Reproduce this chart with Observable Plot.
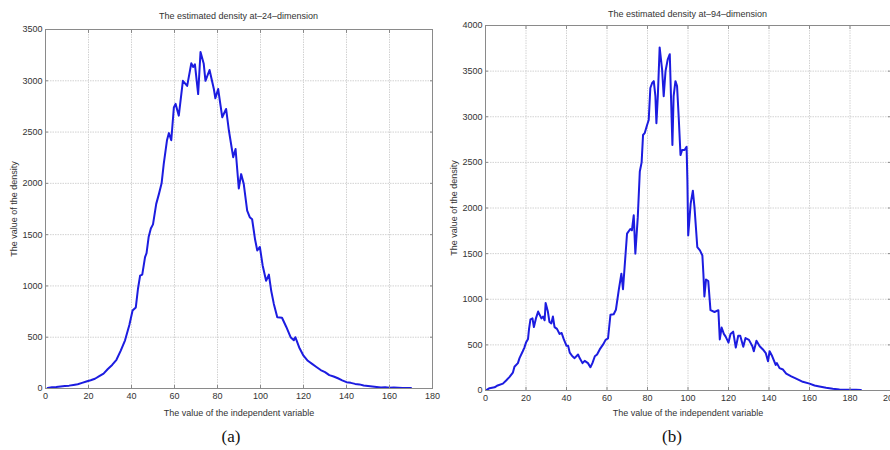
<!DOCTYPE html>
<html><head><meta charset="utf-8">
<script src="https://cdn.jsdelivr.net/npm/d3@7"></script>
<script src="https://cdn.jsdelivr.net/npm/@observablehq/plot@0.6"></script>
<style>
html,body{margin:0;padding:0;background:#fff;overflow:hidden;}
#wrap{position:relative;width:890px;height:450px;overflow:hidden;background:#fff;}
.panel{position:absolute;top:0;}
.title{position:absolute;font-family:"Liberation Sans",Arial,sans-serif;font-size:9px;color:#333;transform:translateX(-50%);white-space:nowrap;line-height:1;}
.cap{position:absolute;font-family:"Liberation Serif","Times New Roman",serif;font-size:17px;color:#111;transform:translateX(-50%);line-height:1;}
</style></head><body><div id="wrap"></div>
<script>
// ---- panel (a): 24-dimension ----
const titleA = "The estimated density at\u201324\u2013dimension";
const xa = [1,3,5,7,9,11,13,15,17,19,21,23,25,27,29,31,33,35,37,39,40.5,42,43,44,45,46.3,47,48,49,50,51.5,52.8,54,55,56.5,57.4,58.5,59.7,60.5,62,63.9,65.9,67.8,68.7,69.5,71,72.1,73.6,74.4,76.3,78.3,79,80.3,82.2,84,85.3,86.8,87.3,88.4,89.9,91,92.2,93.8,95,96.1,97.5,98.5,99.7,101,102.6,103.9,105,106.2,107.8,110,112,114,115.5,116.2,118,120,122,124,126,128,130,132,134,136,138,140,142,144,146,148,150,152,154,156,158,160,162,164,166,168,170];
const ya = [5,12,15,20,25,28,35,42,55,68,80,95,120,145,190,230,280,370,470,620,760,790,970,1100,1110,1280,1320,1480,1560,1600,1800,1900,2000,2190,2420,2490,2420,2740,2775,2660,3000,2950,3170,3135,3160,2870,3280,3165,3000,3105,2920,2830,2920,2645,2725,2515,2320,2255,2335,1950,2090,1995,1735,1670,1650,1450,1345,1380,1200,1050,1110,950,825,695,690,600,500,470,500,400,320,270,240,210,180,160,130,117,100,80,62,55,45,40,30,25,20,15,10,12,8,10,8,6,5,5];
const xTicksA = [0,20,40,60,80,100,120,140,160,180];
const yTicksA = [0,500,1000,1500,2000,2500,3000,3500];

// ---- panel (b): 94-dimension ----
const titleB = "The estimated density at\u201394\u2013dimension";
const xb = [0.4,2,4.5,6,8.6,10.2,11.9,13.5,14.3,16,16.8,18.4,19.2,20,21,21.5,22.2,23.2,23.9,24.9,26,27.6,28.4,29.2,29.7,30.8,31.6,32.5,33.3,34.1,35.3,36.6,37.6,38.6,40,40.8,41.6,42.9,44,45.7,46.5,47.9,49,50.6,51.8,52.8,54,55.1,56.4,58.1,59.3,60.5,61.7,63.3,64.4,65.8,67.1,67.9,69.9,71.5,72.3,73.2,74,75.2,76.2,77.1,77.8,78.6,79.8,80.6,81.4,82.3,83.1,83.9,84.4,85.1,86,87.2,88,88.9,90,91,91.6,92.3,92.9,93.8,94.6,95.4,96.3,97.1,98.3,99.3,99.7,100.1,101.3,102.4,103.2,104.6,105.9,107.1,107.6,108.1,108.9,110,111.1,113.1,115,115.7,116.6,117.7,118.6,120,121,122.3,123.6,124.8,125.8,127.3,128.4,130.1,131.8,132.5,133.8,135.4,137,138.4,139.5,140.3,141.6,143.3,143.9,145.2,146.9,148.5,151,153.4,156.7,160,162.5,164.9,168.2,171.5,174.8,179.7,183,185.4];
const yb = [5,25,35,55,75,110,150,195,260,300,355,430,470,525,565,675,780,790,695,790,865,790,810,770,960,865,750,735,810,695,675,620,630,565,490,490,415,375,355,395,355,300,325,300,255,300,375,395,450,505,555,570,830,835,885,1100,1280,1110,1720,1770,1755,1920,1500,1900,2400,2500,2800,2820,2910,2965,3315,3370,3390,3225,2930,3225,3760,3520,3225,3500,3630,3685,3225,2690,3225,3390,3335,3000,2580,2635,2635,2670,2300,1700,2045,2190,2010,1570,1535,1480,1280,1030,1217,1200,880,860,880,560,690,620,590,525,620,645,470,600,600,480,575,555,485,430,545,485,450,410,320,430,375,280,300,245,230,185,155,130,95,75,55,45,30,20,12,8,8,5];
const xTicksB = [0,20,40,60,80,100,120,140,160,180,200];
const yTicksB = [0,500,1000,1500,2000,2500,3000,3500,4000];

const xLabel = "The value of the independent variable";
const yLabel = "The value of the density";
const captions = ["(a)", "(b)"];

const lineColor = "#1c1ce0";
const font = '"Liberation Sans", Arial, sans-serif';
const fmt = d3.format("d");

function panel(xs, ys, xTicks, yTicks, o) {
  const data = xs.map((x, i) => ({x, y: ys[i]}));
  const xd = [xTicks[0], xTicks[xTicks.length - 1]];
  const yd = [yTicks[0], yTicks[yTicks.length - 1]];
  const gridStyle = {stroke: "#d2d2d2", strokeOpacity: 1, strokeDasharray: "1.5,1"};
  return Plot.plot({
    width: o.width, height: o.height,
    marginLeft: o.ml, marginRight: o.mr, marginTop: o.mt, marginBottom: o.mb,
    style: {fontFamily: font, fontSize: "9px", color: "#333", background: "transparent", overflow: "visible"},
    x: {domain: xd},
    y: {domain: yd},
    marks: [
      Plot.gridX(xTicks, gridStyle),
      Plot.gridY(yTicks, gridStyle),
      Plot.line(data, {x: "x", y: "y", stroke: lineColor, strokeWidth: 2, strokeLinejoin: "round"}),
      Plot.frame({stroke: "#8a8a8a"}),
      Plot.axisX(xTicks, {anchor: "bottom", tickSize: -3, tickPadding: 7, tickFormat: fmt, stroke: "#8a8a8a", fill: "#333",
        label: xLabel, labelAnchor: "center", labelArrow: "none", labelOffset: o.xlo}),
      Plot.axisX(xTicks, {anchor: "top", tickSize: -3, tickFormat: () => "", stroke: "#8a8a8a", label: null}),
      Plot.axisY(yTicks, {anchor: "left", tickSize: -3, tickPadding: 6, tickFormat: fmt, stroke: "#8a8a8a", fill: "#333",
        label: yLabel, labelAnchor: "center", labelArrow: "none", labelOffset: o.ylo}),
      Plot.axisY(yTicks, {anchor: "right", tickSize: -3, tickFormat: () => "", stroke: "#8a8a8a", label: null})
    ]
  });
}

const wrap = document.getElementById("wrap");
function place(el, left) { el.classList.add("panel"); el.style.left = left + "px"; wrap.appendChild(el); }

const pa = panel(xa, ya, xTicksA, yTicksA, {width: 445, height: 425, ml: 45, mr: 13, mt: 29, mb: 37, xlo: 27, ylo: 35});
place(pa, 0);
const pb = panel(xb, yb, xTicksB, yTicksB, {width: 450, height: 425, ml: 40, mr: 5, mt: 25, mb: 35, xlo: 25, ylo: 35});
place(pb, 445);

function addText(cls, txt, cx, top) {
  const d = document.createElement("div");
  d.className = cls; d.textContent = txt; d.style.left = cx + "px"; d.style.top = top + "px";
  wrap.appendChild(d);
}
addText("title", titleA, 238.5, 12);
addText("title", titleB, 687.5, 10);
addText("cap", captions[0], 231, 428);
addText("cap", captions[1], 672, 428);
</script></body></html>
